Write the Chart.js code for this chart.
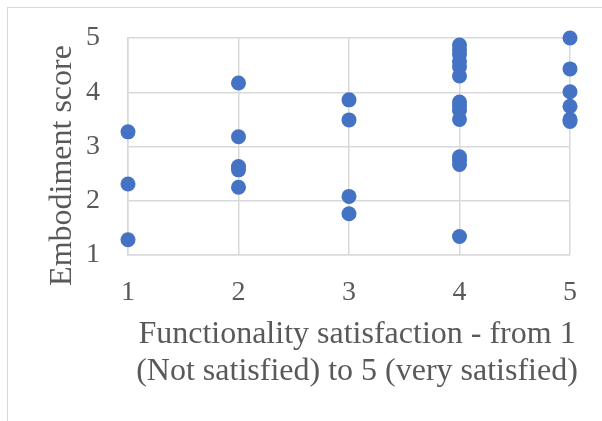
<!DOCTYPE html>
<html>
<head>
<meta charset="utf-8">
<script src="https://cdn.jsdelivr.net/npm/chart.js@4"></script>
<style>
  html, body { margin: 0; padding: 0; background: #ffffff; }
  #wrap { position: relative; width: 602px; height: 421px; overflow: hidden; }
  #frame { position: absolute; left: 7px; top: 7px; width: 700px; height: 600px; border: 1px solid #d9d9d9; box-sizing: border-box; }
  canvas { position: absolute; left: 0; top: 0; }
</style>
</head>
<body>
<div id="wrap">
  <div id="frame"></div>
  <canvas id="c" width="602" height="421"></canvas>
</div>
<script>
const functionality = [1, 1, 1,
  2, 2, 2, 2, 2,
  3, 3, 3, 3,
  4, 4, 4, 4, 4, 4, 4, 4, 4, 4, 4, 4, 4, 4,
  5, 5, 5, 5, 5, 5];
const embodiment = [3.27, 2.31, 1.28,
  4.17, 3.18, 2.63, 2.57, 2.25,
  3.86, 3.49, 2.08, 1.76,
  4.87, 4.78, 4.70, 4.57, 4.47, 4.30, 3.82, 3.75, 3.67, 3.50, 2.81, 2.75, 2.67, 1.34,
  5.00, 4.43, 4.01, 3.74, 3.50, 3.46];
const tickValues = [1, 2, 3, 4, 5];
const xTitle = ['Functionality satisfaction - from 1', '(Not satisfied) to 5 (very satisfied)'];
const yTitle = 'Embodiment score';

const points = functionality.map((x, i) => ({ x: x, y: embodiment[i] }));
const textColor = '#595959';
const gridColor = '#d9d9d9';
const fam = '"Liberation Serif", "Times New Roman", serif';

// Axis titles drawn as real text, positioned like the original
const axisTitles = {
  id: 'axisTitles',
  afterDraw(chart) {
    const ctx = chart.ctx;
    const a = chart.chartArea;
    ctx.save();
    ctx.fillStyle = textColor;
    ctx.font = '32px ' + fam;
    ctx.textAlign = 'center';
    ctx.textBaseline = 'alphabetic';
    const cx = (a.left + a.right) / 2 + 8;
    ctx.fillText(xTitle[0], cx, a.bottom + 88);
    ctx.fillText(xTitle[1], cx, a.bottom + 125);
    ctx.translate(71, (a.top + a.bottom) / 2 + 19);
    ctx.rotate(-Math.PI / 2);
    ctx.fillText(yTitle, 0, 0);
    ctx.restore();
  }
};

new Chart(document.getElementById('c'), {
  type: 'scatter',
  data: {
    datasets: [{
      data: points,
      backgroundColor: '#4472C4',
      borderColor: '#4472C4',
      borderWidth: 0,
      pointRadius: 7.5,
      pointHoverRadius: 7.5,
      clip: false
    }]
  },
  options: {
    responsive: false,
    animation: false,
    events: [],
    layout: { padding: { left: 0, top: 38, right: 32, bottom: 0 } },
    plugins: { legend: { display: false }, tooltip: { enabled: false } },
    scales: {
      x: {
        type: 'linear',
        min: 1, max: 5,
        afterBuildTicks: s => { s.ticks = tickValues.map(v => ({ value: v })); },
        afterFit: s => { s.height = 421 - 255; s.paddingLeft = 0; s.paddingRight = 0; },
        grid: { color: gridColor, lineWidth: 1.5, drawTicks: false },
        border: { color: gridColor, width: 1.5 },
        ticks: { color: textColor, font: { family: fam, size: 28 }, padding: 21 }
      },
      y: {
        type: 'linear',
        min: 1, max: 5,
        afterBuildTicks: s => { s.ticks = tickValues.map(v => ({ value: v })); },
        afterFit: s => { s.width = 128; s.paddingTop = 0; s.paddingBottom = 0; },
        grid: { color: gridColor, lineWidth: 1.5, drawTicks: false },
        border: { color: gridColor, width: 1.5 },
        ticks: { color: textColor, font: { family: fam, size: 28 }, padding: 28 }
      }
    }
  },
  plugins: [axisTitles]
});
</script>
</body>
</html>
